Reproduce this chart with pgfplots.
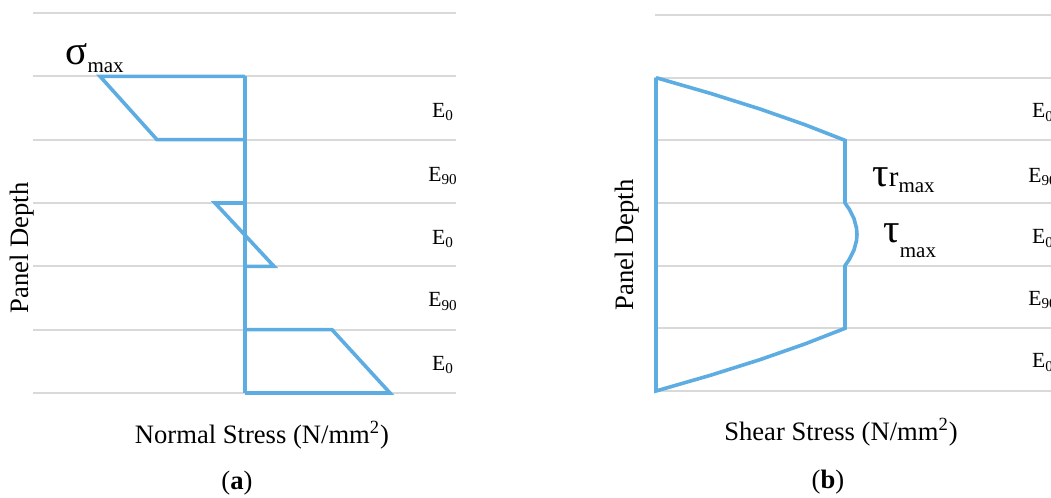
\documentclass[border=0pt]{standalone}
\usepackage{fontspec}
\setmainfont{Liberation Serif}
\usepackage{pgfplots}
\pgfplotsset{compat=1.18}
\definecolor{lblue}{RGB}{93,173,226}
\definecolor{lgrid}{RGB}{217,217,217}
\pgfplotsset{stressax/.style={
  scale only axis, anchor=south west, clip=false,
  ymin=0, ymax=6, ytick={0,1,2,3,4,5,6}, yticklabels={},
  xtick=\empty, ymajorgrids, major grid style={lgrid, line width=1pt},
  major tick length=0pt, axis line style={draw=none},
}}
\newcommand{\lab}{\fontsize{13.3}{16}\selectfont}
\newcommand{\el}{\fontsize{10.8}{12}\selectfont}
\begin{document}
\begin{tikzpicture}[x=0.5pt,y=0.5pt]
\useasboundingbox (0,0) rectangle (1051,498);
\clip (0,0) rectangle (1051,498);
% ---------- (a) ----------
\begin{axis}[stressax, at={(16.5pt,52.5pt)}, width=211.5pt, height=190pt,
  xmin=-212, xmax=211]
\addplot[lblue, line width=1.8pt, line join=miter] coordinates {(0,5) (-145,5) (-88,4) (0,4)};
\addplot[lblue, line width=1.8pt] coordinates {(0,5) (0,0)};
\addplot[lblue, line width=1.8pt, line join=miter] coordinates {(0,3) (-30,3) (29,2) (0,2)};
\addplot[lblue, line width=1.8pt, line join=miter] coordinates {(0,1) (87,1) (145,0) (0,0)};
\node[anchor=base, font=\el] at (axis cs:198,4.35) {E\textsubscript{0}};
\node[anchor=base, font=\el] at (axis cs:198,3.34) {E\textsubscript{90}};
\node[anchor=base, font=\el] at (axis cs:198,2.35) {E\textsubscript{0}};
\node[anchor=base, font=\el] at (axis cs:198,1.36) {E\textsubscript{90}};
\node[anchor=base, font=\el] at (axis cs:198,0.36) {E\textsubscript{0}};
\end{axis}
% ---------- (b) ----------
\begin{axis}[stressax, at={(327.5pt,53.5pt)}, width=211.5pt, height=188pt,
  xmin=-1, xmax=422]
\addplot[lblue, line width=1.8pt, line join=miter] coordinates {
 (0,5) (54.3,4.75) (104,4.5) (148.8,4.25) (189,4)
 (189,3) (193.3,2.9) (198,2.75) (200.5,2.6) (201,2.5) (200.5,2.4) (198,2.25) (193.3,2.1) (189,2)
 (189,1) (148.8,0.75) (104,0.5) (54.3,0.25) (0,0) (0,5)};
\node[anchor=base, font=\el] at (axis cs:387,4.36) {E\textsubscript{0}};
\node[anchor=base, font=\el] at (axis cs:387,3.33) {E\textsubscript{90}};
\node[anchor=base, font=\el] at (axis cs:387,2.35) {E\textsubscript{0}};
\node[anchor=base, font=\el] at (axis cs:387,1.37) {E\textsubscript{90}};
\node[anchor=base, font=\el] at (axis cs:387,0.37) {E\textsubscript{0}};
\end{axis}
% ---------- texts ----------
\node[rotate=90, font=\lab] at (22,250) {Panel Depth};
\node[font=\lab] at (262,63) {Normal Stress (N/mm\textsuperscript{2})};
\node[font=\lab] at (237,15) {(\textbf{a})};
\node[rotate=90, font=\lab] at (627,253) {Panel Depth};
\node[font=\lab] at (841,66) {Shear Stress (N/mm\textsuperscript{2})};
\node[font=\lab] at (828,16) {(\textbf{b})};
\node[anchor=base west, inner sep=0pt] at (65,433) {{\fontsize{20.5}{20}\selectfont σ}\raisebox{-4pt}{\fontsize{10.5}{11}\selectfont max}};
\node[anchor=base west, inner sep=0pt] at (872,311) {{\fontsize{20.5}{20}\selectfont τ}{\fontsize{14.5}{15}\selectfont r}\raisebox{-3pt}{\fontsize{10.5}{11}\selectfont max}};
\node[anchor=base west, inner sep=0pt] at (883,255) {{\fontsize{20.5}{20}\selectfont τ}\raisebox{-7.5pt}{\fontsize{10.5}{11}\selectfont max}};
\end{tikzpicture}
\end{document}
